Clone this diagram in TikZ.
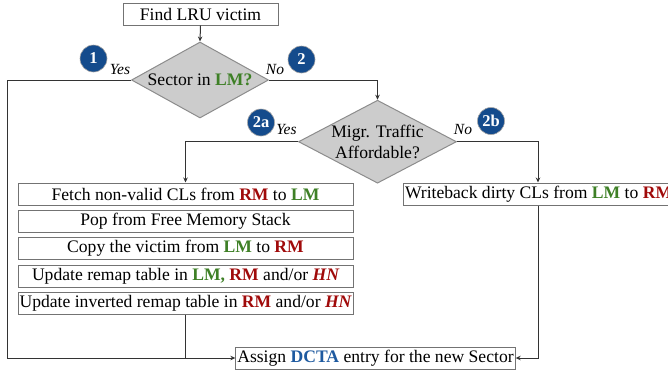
\documentclass[tikz,border=0pt]{standalone}
\usepackage{fontspec}
\setmainfont{Liberation Serif}
\usetikzlibrary{shapes.geometric,arrows.meta}
\definecolor{lmgreen}{RGB}{62,128,38}
\definecolor{rmred}{RGB}{160,10,10}
\definecolor{dctablue}{RGB}{30,90,160}
\definecolor{circblue}{RGB}{20,75,140}
\newcommand{\LMtxt}{\textbf{\color{lmgreen}LM}}
\newcommand{\RMtxt}{\textbf{\color{rmred}RM}}
\newcommand{\HNtxt}{\textbf{\textit{\color{rmred}HN}}}
\begin{document}
\begin{tikzpicture}[x=1pt,y=-1pt,
  font=\fontsize{17.6}{20.5}\selectfont,
  stepbox/.style={draw=black!55, line width=1pt, minimum height=22pt, inner ysep=1pt, inner xsep=1.5pt},
  decision/.style={diamond, draw=black!45, fill=black!20, line width=1pt, inner sep=0pt},
  flow/.style={draw=black!80, line width=1pt},
  arr/.style={flow, -{Stealth[length=5pt,width=4.5pt]}},
  badge/.style={circle, fill=circblue, draw=black!35, line width=0.6pt, minimum size=27pt, inner sep=0pt, text=white, font=\fontsize{16.5}{16.5}\selectfont\bfseries},
  ans/.style={font=\fontsize{15.5}{15.5}\selectfont\itshape}]
\useasboundingbox (0,0) rectangle (668,375);

\node[stepbox, minimum width=155pt] (find) at (200.5,14) {Find LRU victim};
\node[decision, minimum width=137pt, minimum height=76pt] (d1) at (200,80) {};
\node (d1t) at (d1) {Sector in \textbf{\color{lmgreen}LM?}};
\node[decision, minimum width=158pt, minimum height=83pt] (d2) at (377.5,141.7) {};
\node[align=center] (d2t) at (d2) {Migr. Traffic\\Affordable?};

\node[stepbox, minimum width=335pt] (fetch) at (185.5,194) {Fetch non-valid CLs from \RMtxt{} to \LMtxt};
\node[stepbox, minimum width=335pt] (pop) at (185.5,221) {Pop from Free Memory Stack};
\node[stepbox, minimum width=335pt] (copy) at (185.5,248.5) {Copy the victim from \LMtxt{} to \RMtxt};
\node[stepbox, minimum width=335pt] (upd1) at (185.5,276) {Update remap table in \textbf{\color{lmgreen}LM,} \RMtxt{} and/or \HNtxt};
\node[stepbox, minimum width=335pt] (upd2) at (185.5,303) {Update inverted remap table in \RMtxt{} and/or \HNtxt};

\node[stepbox, anchor=west] (wb) at (403,194) {Writeback dirty CLs from \LMtxt{} to \RMtxt};
\node[stepbox, minimum width=277pt] (assign) at (375.5,358) {Assign \textbf{\color{dctablue}DCTA} entry for the new Sector};

\node[badge] (b1) at (93.5,58.5) {1};
\node[badge] (b2) at (301.5,59.5) {2};
\node[badge] (b2a) at (261,122.5) {2a};
\node[badge] (b2b) at (491,121) {2b};
\node[ans] (y1) at (120,69) {Yes};
\node[ans] (n1) at (275,69) {No};
\node[ans] (y2) at (286.5,129.5) {Yes};
\node[ans] (n2) at (463,129.5) {No};

\coordinate (lc) at (7,358);
\path (wb.north west) ++(135,0) coordinate (wbtop);
\path (wb.south west) ++(135,0) coordinate (wbbot);

\draw[arr] (find.south) -- (d1.north);
\draw[arr] (d1.west) -| (lc) -- (assign.west);
\draw[arr] (d1.east) -| (d2.north);
\draw[arr] (d2.west) -| (fetch.north);
\draw[arr] (d2.east) -| (wbtop);
\draw[flow] (upd2.south) -- (upd2.south |- assign.west);
\draw[arr] (wbbot) |- (assign.east);
\end{tikzpicture}
\end{document}
